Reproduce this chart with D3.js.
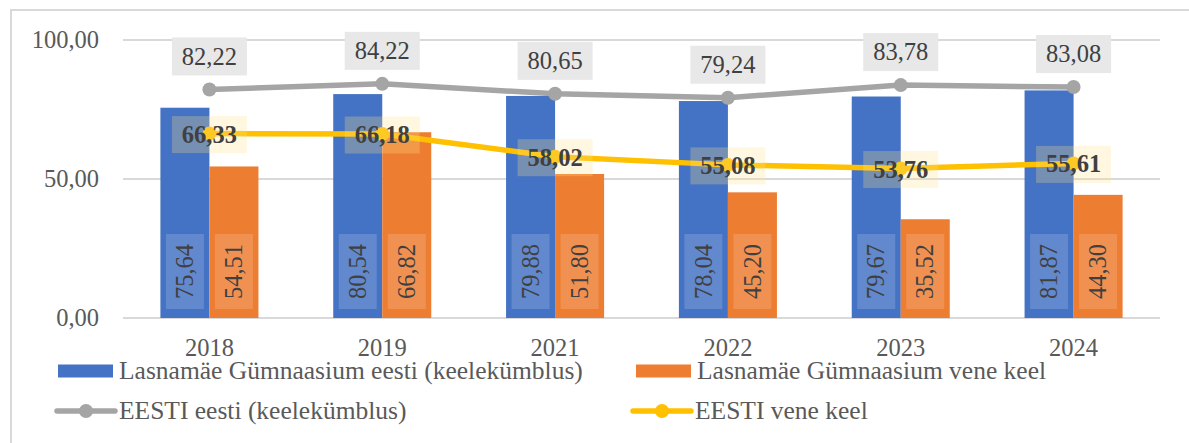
<!DOCTYPE html>
<html>
<head>
<meta charset="utf-8">
<style>
  body { margin: 0; background: #fff; }
  text { font-family: "Liberation Serif", "Times New Roman", serif; }
</style>
<script src="https://cdn.jsdelivr.net/npm/d3@7"></script>
</head>
<body>
<svg id="chart" width="1189" height="443"></svg>
<script>
// data
var years = ["2018", "2019", "2021", "2022", "2023", "2024"];
var barSeries = ["Lasnamäe Gümnaasium eesti (keelekümblus)", "Lasnamäe Gümnaasium vene keel"];
var lineSeries = ["EESTI eesti (keelekümblus)", "EESTI vene keel"];
var lgEesti = [75.64, 80.54, 79.88, 78.04, 79.67, 81.87];
var lgVene = [54.51, 66.82, 51.80, 45.20, 35.52, 44.30];
var eestiEesti = [82.22, 84.22, 80.65, 79.24, 83.78, 83.08];
var eestiVene = [66.33, 66.18, 58.02, 55.08, 53.76, 55.61];
var yTicks = [0, 50, 100];

var barColors = ["#4472c4", "#ed7d31"];
var lineColors = ["#a5a5a5", "#ffc000"];

var fmt = function(v) { return d3.format(".2f")(v).replace(".", ","); };

var svg = d3.select("#chart");

// frame (only top and left edges are inside the picture)
svg.append("rect")
    .attr("x", 11).attr("y", 10)
    .attr("width", 1200).attr("height", 450)
    .attr("fill", "none").attr("stroke", "#d9d9d9").attr("stroke-width", 2);

var x = d3.scaleBand().domain(years).range([123, 1160]).padding(0);
var x1 = d3.scaleBand().domain([0, 1]).range([0, x.bandwidth()]).paddingOuter(0.763).paddingInner(0);
var y = d3.scaleLinear().domain([0, 100]).range([318, 40]);

// grid
svg.append("g").selectAll("line")
    .data(yTicks)
    .enter().append("line")
    .attr("x1", 123).attr("x2", 1160)
    .attr("y1", function(d) { return y(d); })
    .attr("y2", function(d) { return y(d); })
    .attr("stroke", "#d9d9d9").attr("stroke-width", 2);

// y labels
svg.append("g").selectAll("text")
    .data(yTicks)
    .enter().append("text")
    .attr("x", 99)
    .attr("y", function(d) { return y(d); })
    .attr("dy", "0.33em")
    .attr("text-anchor", "end")
    .attr("font-size", "24.5px")
    .attr("fill", "#595959")
    .text(function(d) { return fmt(d); });

// x labels
svg.append("g").selectAll("text")
    .data(years)
    .enter().append("text")
    .attr("x", function(d) { return x(d) + x.bandwidth() / 2; })
    .attr("y", 356)
    .attr("text-anchor", "middle")
    .attr("font-size", "24.5px")
    .attr("fill", "#595959")
    .text(function(d) { return d; });

// bars
var barData = [];
years.forEach(function(yr, i) {
    [lgEesti[i], lgVene[i]].forEach(function(v, s) {
        barData.push({ year: yr, s: s, v: v });
    });
});

svg.append("g").selectAll("rect")
    .data(barData)
    .enter().append("rect")
    .attr("x", function(d) { return x(d.year) + x1(d.s); })
    .attr("y", function(d) { return y(d.v); })
    .attr("width", x1.bandwidth())
    .attr("height", function(d) { return y(0) - y(d.v); })
    .attr("fill", function(d) { return barColors[d.s]; });

// bar labels, rotated, near the base
var bl = svg.append("g").selectAll("g")
    .data(barData)
    .enter().append("g")
    .attr("transform", function(d) {
        var cx = x(d.year) + x1(d.s) + x1.bandwidth() / 2;
        return "translate(" + cx + "," + (y(0) - 46.5) + ") rotate(-90)";
    });
bl.append("rect")
    .attr("x", -37.5).attr("y", -19)
    .attr("width", 75).attr("height", 38)
    .attr("fill", "#fff").attr("fill-opacity", 0.16);
bl.append("text")
    .attr("text-anchor", "middle")
    .attr("dy", "0.33em")
    .attr("font-size", "24.5px")
    .attr("fill", "#404040")
    .text(function(d) { return fmt(d.v); });

// lines
var cxOf = function(i) { return x(years[i]) + x.bandwidth() / 2; };
var line = d3.line()
    .x(function(d, i) { return cxOf(i); })
    .y(function(d) { return y(d); });

[eestiEesti, eestiVene].forEach(function(vals, k) {
    svg.append("path")
        .datum(vals)
        .attr("d", line)
        .attr("fill", "none")
        .attr("stroke", lineColors[k])
        .attr("stroke-width", 5.5)
        .attr("stroke-linejoin", "round");
    svg.append("g").selectAll("circle")
        .data(vals)
        .enter().append("circle")
        .attr("cx", function(d, i) { return cxOf(i); })
        .attr("cy", function(d) { return y(d); })
        .attr("r", 7)
        .attr("fill", lineColors[k]);
});

// gray line labels above points
var gl = svg.append("g").selectAll("g")
    .data(eestiEesti)
    .enter().append("g")
    .attr("transform", function(d, i) { return "translate(" + cxOf(i) + "," + (y(d) - 33) + ")"; });
gl.append("rect")
    .attr("x", -37.5).attr("y", -19)
    .attr("width", 75).attr("height", 38)
    .attr("fill", "#e8e8e8");
gl.append("text")
    .attr("text-anchor", "middle")
    .attr("dy", "0.33em")
    .attr("font-size", "24.5px")
    .attr("fill", "#404040")
    .text(function(d) { return fmt(d); });

// yellow line labels centred on points
var yl = svg.append("g").selectAll("g")
    .data(eestiVene)
    .enter().append("g")
    .attr("transform", function(d, i) { return "translate(" + cxOf(i) + "," + (y(d) + 1) + ")"; });
yl.append("rect")
    .attr("x", -37.5).attr("y", -18.5)
    .attr("width", 75).attr("height", 37)
    .attr("fill", "#ffe08a").attr("fill-opacity", 0.27);
yl.append("text")
    .attr("text-anchor", "middle")
    .attr("dy", "0.33em")
    .attr("font-size", "24.5px")
    .attr("font-weight", "bold")
    .attr("fill", "#404040")
    .text(function(d) { return fmt(d); });

// legend
var legend = [
    { name: barSeries[0], type: "bar", color: barColors[0], x: 58, y: 371 },
    { name: barSeries[1], type: "bar", color: barColors[1], x: 636, y: 371 },
    { name: lineSeries[0], type: "line", color: lineColors[0], x: 58, y: 411 },
    { name: lineSeries[1], type: "line", color: lineColors[1], x: 634, y: 411 }
];
var lg = svg.append("g").selectAll("g")
    .data(legend)
    .enter().append("g")
    .attr("transform", function(d) { return "translate(" + d.x + "," + d.y + ")"; });
lg.filter(function(d) { return d.type === "bar"; })
    .append("rect")
    .attr("x", 0).attr("y", -6.5)
    .attr("width", 55).attr("height", 13)
    .attr("fill", function(d) { return d.color; });
lg.filter(function(d) { return d.type === "line"; })
    .append("line")
    .attr("x1", -1).attr("x2", 57)
    .attr("stroke", function(d) { return d.color; })
    .attr("stroke-width", 5.5)
    .attr("stroke-linecap", "round");
lg.filter(function(d) { return d.type === "line"; })
    .append("circle")
    .attr("cx", 28).attr("r", 7)
    .attr("fill", function(d) { return d.color; });
lg.append("text")
    .attr("x", 61)
    .attr("y", 8)
    .attr("font-size", "25.5px")
    .attr("fill", "#595959")
    .text(function(d) { return d.name; });
</script>
</body>
</html>
